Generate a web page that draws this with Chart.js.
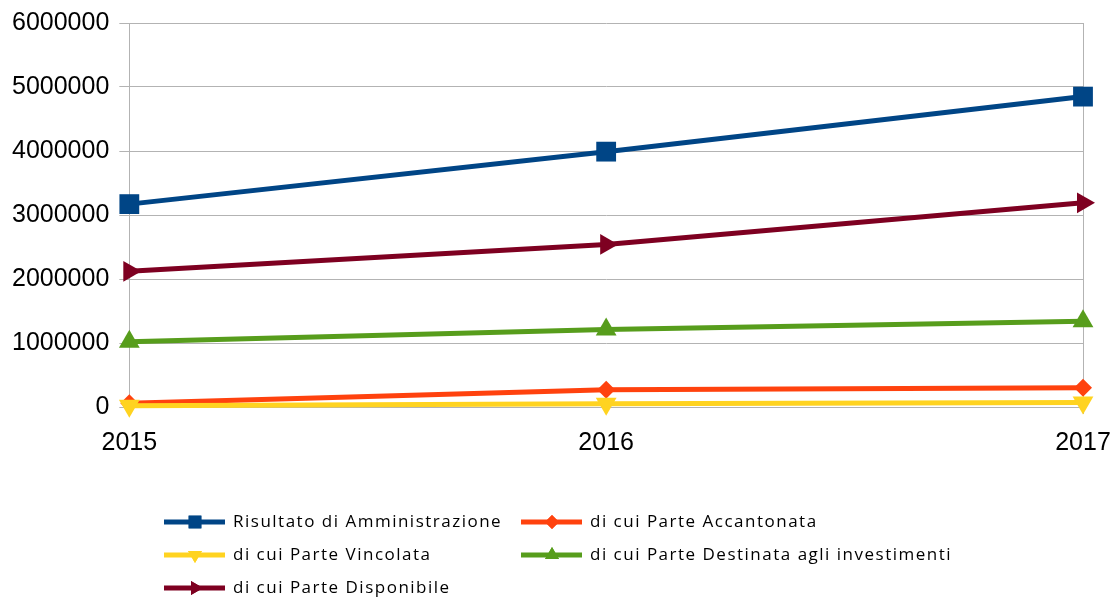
<!DOCTYPE html>
<html><head><meta charset="utf-8">
<script src="https://cdn.jsdelivr.net/npm/chart.js@4/dist/chart.umd.min.js"></script>
<style>html,body{margin:0;padding:0;background:#fff}#wrap{width:1111px;height:598px}</style>
</head><body><div id="wrap"><canvas id="c" width="1111" height="598"></canvas></div>
<script>
const categories = ['2015', '2016', '2017'];
const seriesNames = ['Risultato di Amministrazione', 'di cui Parte Accantonata', 'di cui Parte Vincolata', 'di cui Parte Destinata agli investimenti', 'di cui Parte Disponibile'];
const risultato = [3170000, 3990000, 4850000];
const accantonata = [60000, 270000, 300000];
const vincolata = [20000, 50000, 70000];
const destinata = [1020000, 1210000, 1340000];
const disponibile = [2120000, 2540000, 3190000];
const yTicks = [0, 1000000, 2000000, 3000000, 4000000, 5000000, 6000000];

const seriesValues = [risultato, accantonata, vincolata, destinata, disponibile];
const colors = ['#004586', '#ff420e', '#ffd320', '#579d1c', '#7e0021'];
const styles = [
  {pointStyle: 'rect', radius: 14, rotation: 0, lg: 9},
  {pointStyle: 'rectRot', radius: 9, rotation: 0, lg: 7},
  {pointStyle: 'triangle', radius: 12, rotation: 180, lg: 8},
  {pointStyle: 'triangle', radius: 12, rotation: 0, lg: 8},
  {pointStyle: 'triangle', radius: 12, rotation: 90, lg: 8}
];

const datasets = seriesNames.map((name, i) => ({
  label: name,
  data: seriesValues[i],
  borderColor: colors[i],
  backgroundColor: colors[i],
  borderWidth: 5,
  pointStyle: styles[i].pointStyle,
  pointRadius: styles[i].radius,
  pointHoverRadius: styles[i].radius,
  pointRotation: styles[i].rotation,
  pointBorderWidth: 0,
  pointBackgroundColor: colors[i],
  tension: 0,
  clip: false,
  order: seriesNames.length - i
}));

const legendPlugin = {
  id: 'gridLegend',
  afterDraw(chart) {
    const ctx = chart.ctx;
    const cols = [164, 521];
    const rows = [522, 555, 588];
    ctx.save();
    chart.data.datasets.forEach((ds, i) => {
      const x = cols[i % 2];
      const y = rows[Math.floor(i / 2)];
      ctx.strokeStyle = ds.borderColor;
      ctx.lineWidth = 5;
      ctx.beginPath();
      ctx.moveTo(x, y);
      ctx.lineTo(x + 61, y);
      ctx.stroke();
      ctx.fillStyle = ds.borderColor;
      Chart.helpers.drawPoint(ctx, {
        pointStyle: ds.pointStyle,
        radius: styles[i].lg,
        rotation: ds.pointRotation,
        borderWidth: 0
      }, x + 31, y);
      ctx.fill();
      ctx.fillStyle = '#000';
      ctx.font = '17px "Open Sans"';
      ctx.letterSpacing = '1.5px';
      ctx.textBaseline = 'middle';
      ctx.textAlign = 'left';
      ctx.fillText(ds.label, x + 69, y);
    });
    ctx.restore();
  }
};

new Chart(document.getElementById('c'), {
  type: 'line',
  data: {labels: categories, datasets},
  plugins: [legendPlugin],
  options: {
    responsive: false,
    animation: false,
    events: [],
    layout: {padding: {top: 8, left: 2, right: 0, bottom: 126}},
    plugins: {legend: {display: false}, tooltip: {enabled: false}},
    scales: {
      x: {
        offset: false,
        afterFit: s => { s.paddingLeft = 0; s.paddingRight = 28; },
        grid: {
          color: c => (c.index === 1 ? 'rgba(0,0,0,0)' : '#b3b3b3'),
          tickColor: '#b3b3b3',
          tickLength: 7,
          lineWidth: 1
        },
        border: {display: false},
        ticks: {color: '#000', font: {family: '"Liberation Sans"', size: 25}, padding: 14, maxRotation: 0}
      },
      y: {
        min: 0, max: 6000000,
        afterBuildTicks: axis => { axis.ticks = yTicks.map(v => ({value: v})); },
        afterFit: s => { s.paddingTop = 23; },
        grid: {color: '#b3b3b3', tickColor: '#b3b3b3', tickLength: 10, lineWidth: 1},
        border: {display: true, color: '#b3b3b3'},
        ticks: {color: '#000', font: {family: '"Liberation Sans"', size: 25}, padding: 10, callback: v => String(v)}
      }
    }
  }
});
</script></body></html>
